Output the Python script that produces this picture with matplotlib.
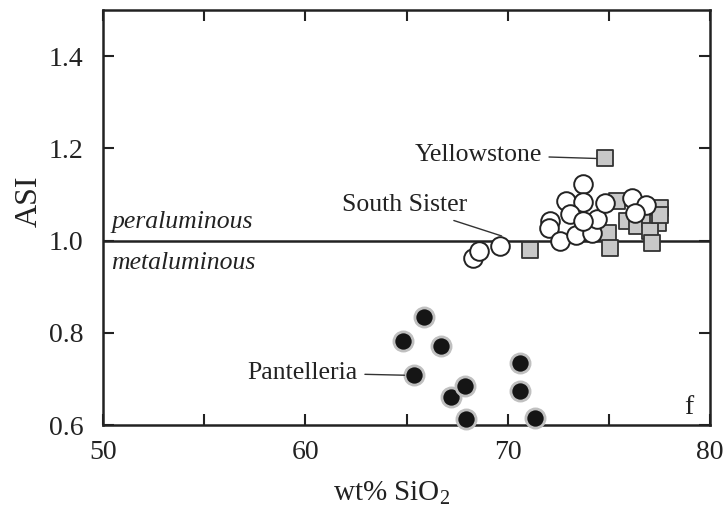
import numpy as np
import matplotlib
matplotlib.use("Agg")
import matplotlib.pyplot as plt

plt.rcParams['font.family'] = ['Liberation Serif', 'DejaVu Serif']
plt.rcParams['mathtext.fontset'] = 'custom'
plt.rcParams['mathtext.rm'] = 'Liberation Serif'

# Pantelleria (filled circles)
pant_sio2 = [64.83, 65.87, 66.71, 65.37, 67.20, 67.89, 67.94, 70.60, 70.60, 71.36]
pant_asi = [0.783, 0.835, 0.772, 0.709, 0.661, 0.685, 0.613, 0.735, 0.674, 0.615]

# South Sister (open circles)
ss_sio2 = [68.30, 68.60, 69.62, 72.09, 72.06, 72.59, 72.88, 73.74, 73.71, 73.08,
           73.38, 74.15, 74.40, 73.74, 74.81, 76.13, 76.84, 76.29]
ss_asi = [0.962, 0.977, 0.989, 1.042, 1.028, 0.998, 1.085, 1.122, 1.083, 1.057,
          1.013, 1.017, 1.046, 1.042, 1.082, 1.093, 1.078, 1.060]

# Yellowstone (grey squares)
ys_sio2 = [71.10, 74.97, 75.06, 75.39, 75.88, 76.38, 77.04, 77.53, 77.43, 77.04,
           77.12, 74.81, 77.55]
ys_asi = [0.980, 1.017, 0.984, 1.085, 1.042, 1.031, 1.046, 1.071, 1.039, 1.020,
          0.995, 1.180, 1.055]

fig = plt.figure(figsize=(7.24, 5.13), dpi=100)
ax = fig.add_axes([0.1423, 0.1715, 0.8384, 0.809])

ax.axhline(1.0, color='#222222', lw=1.8, zorder=1)

ax.scatter(ys_sio2, ys_asi, marker='s', s=120, facecolor='#c8c8c8',
           edgecolor='#333333', lw=1.3, zorder=2)
ax.scatter(ss_sio2, ss_asi, marker='o', s=180, facecolor='white',
           edgecolor='#222222', lw=1.4, zorder=3)
ax.scatter(pant_sio2, pant_asi, marker='o', s=190, facecolor='#151515',
           edgecolor='#c0c0c0', lw=2.0, zorder=3, clip_on=False)

ax.set_xlim(50, 80)
ax.set_ylim(0.6, 1.5)
ax.set_xticks([50, 60, 70, 80])
ax.set_xticks([55, 65, 75], minor=True)
ax.set_yticks([0.6, 0.8, 1.0, 1.2, 1.4])
ax.set_yticklabels(['0.6', '0.8', '1.0', '1.2', '1.4'])
ax.tick_params(which='both', direction='in', top=True, right=True,
               length=8, width=1.5, labelsize=20, colors='#222222')
ax.tick_params(axis='y', pad=14)
ax.tick_params(axis='x', pad=11)
for sp in ax.spines.values():
    sp.set_linewidth(1.8)
    sp.set_color('#222222')

ax.set_xlabel('wt% SiO$_2$', fontsize=21, color='#222222')
ax.xaxis.set_label_coords(0.475, -0.13)
ax.set_ylabel('ASI', fontsize=23, color='#222222')
ax.yaxis.set_label_coords(-0.098, 0.54)

ax.text(50.4, 1.016, 'peraluminous', style='italic', fontsize=18.5,
        color='#222222', ha='left', va='bottom')
ax.text(50.4, 0.976, 'metaluminous', style='italic', fontsize=18.5,
        color='#222222', ha='left', va='top')

ax.annotate('Yellowstone', xy=(74.4, 1.178), xytext=(71.7, 1.186),
            fontsize=18.5, color='#222222', ha='right', va='center',
            arrowprops=dict(arrowstyle='-', color='#333333', lw=1.0,
                            shrinkA=3, shrinkB=0))
ax.annotate('South Sister', xy=(69.7, 1.01), xytext=(68.0, 1.078),
            fontsize=18.5, color='#222222', ha='right', va='center',
            arrowprops=dict(arrowstyle='-', color='#333333', lw=1.0,
                            shrinkA=5, shrinkB=0))
ax.annotate('Pantelleria', xy=(64.9, 0.708), xytext=(62.6, 0.713),
            fontsize=18.5, color='#222222', ha='right', va='center',
            arrowprops=dict(arrowstyle='-', color='#333333', lw=1.0,
                            shrinkA=3, shrinkB=0))

ax.text(79.2, 0.638, 'f', fontsize=20, color='#222222', ha='right', va='center')

fig.savefig('out.png', dpi=100)
